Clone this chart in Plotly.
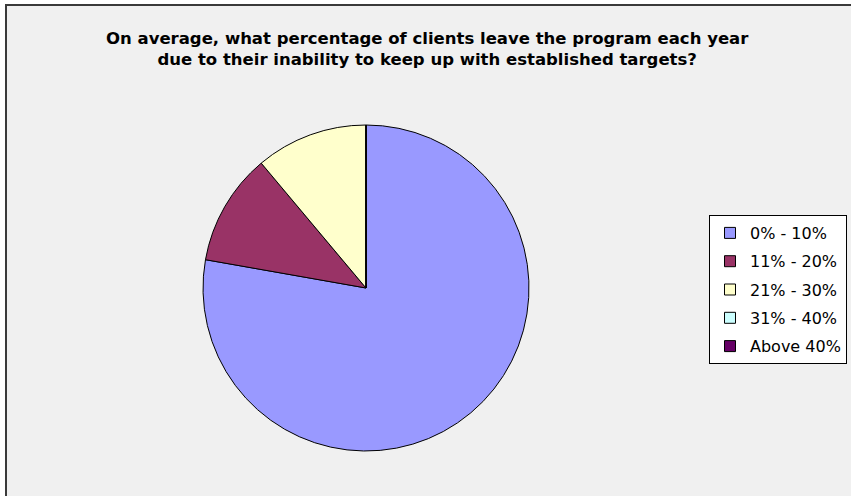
import plotly.graph_objects as go

# Survey responses: share of clients leaving the program each year
categories = ["0% - 10%", "11% - 20%", "21% - 30%", "31% - 40%", "Above 40%"]
responses = [7, 1, 1, 0, 0]
colors = ["#9999FF", "#993366", "#FFFFCC", "#CCFFFF", "#660066"]

title_lines = ["On average, what percentage of clients leave the program each year",
               "due to their inability to keep up with established targets?"]

W, H = 851, 496
cx, cy, r = 366, 288, 163  # pie centre and radius in pixels

fig = go.Figure()

fig.add_trace(go.Pie(
    labels=categories,
    values=responses,
    marker=dict(colors=colors, line=dict(color="#000000", width=1)),
    sort=False,
    direction="clockwise",
    rotation=0,
    textinfo="none",
    hoverinfo="label+value+percent",
    showlegend=False,
    domain=dict(x=[(cx - r) / W, (cx + r) / W],
                y=[(H - cy - r) / H, (H - cy + r) / H]),
))

# Legend entries: one square swatch per category
for i, (cat, col) in enumerate(zip(categories, colors)):
    fig.add_trace(go.Scatter(
        x=[None], y=[None], mode="markers", name=cat,
        legendgroup=f"g{i}",
        marker=dict(symbol="square", size=11, color=col,
                    line=dict(color="#000000", width=1)),
    ))

title_html = "<br>".join(f"<b>{line}</b>" for line in title_lines)

fig.update_layout(
    width=W, height=H,
    margin=dict(l=0, r=0, t=0, b=0),
    paper_bgcolor="#ffffff",
    plot_bgcolor="rgba(0,0,0,0)",
    xaxis=dict(visible=False),
    yaxis=dict(visible=False),
    showlegend=True,
    legend=dict(
        x=847 / W, y=1 - 215 / H, xanchor="right", yanchor="top",
        bgcolor="#ffffff", bordercolor="#000000", borderwidth=1,
        font=dict(family="DejaVu Sans", size=16, color="#000000"),
        traceorder="grouped", tracegroupgap=4.5,
        itemclick=False, itemdoubleclick=False,
    ),
    shapes=[dict(
        type="rect", xref="paper", yref="paper",
        x0=6 / W, x1=1.02, y0=-0.02, y1=1 - 5 / H,
        fillcolor="#f0f0f0", line=dict(color="#3a3a3a", width=2),
        layer="below",
    )],
    annotations=[dict(
        text=title_html, xref="paper", yref="paper",
        x=427 / W, y=1 - 27 / H, xanchor="center", yanchor="top",
        showarrow=False, align="center",
        font=dict(family="DejaVu Sans", size=16.5, color="#000000"),
    )],
)

fig.write_html("out.html")
